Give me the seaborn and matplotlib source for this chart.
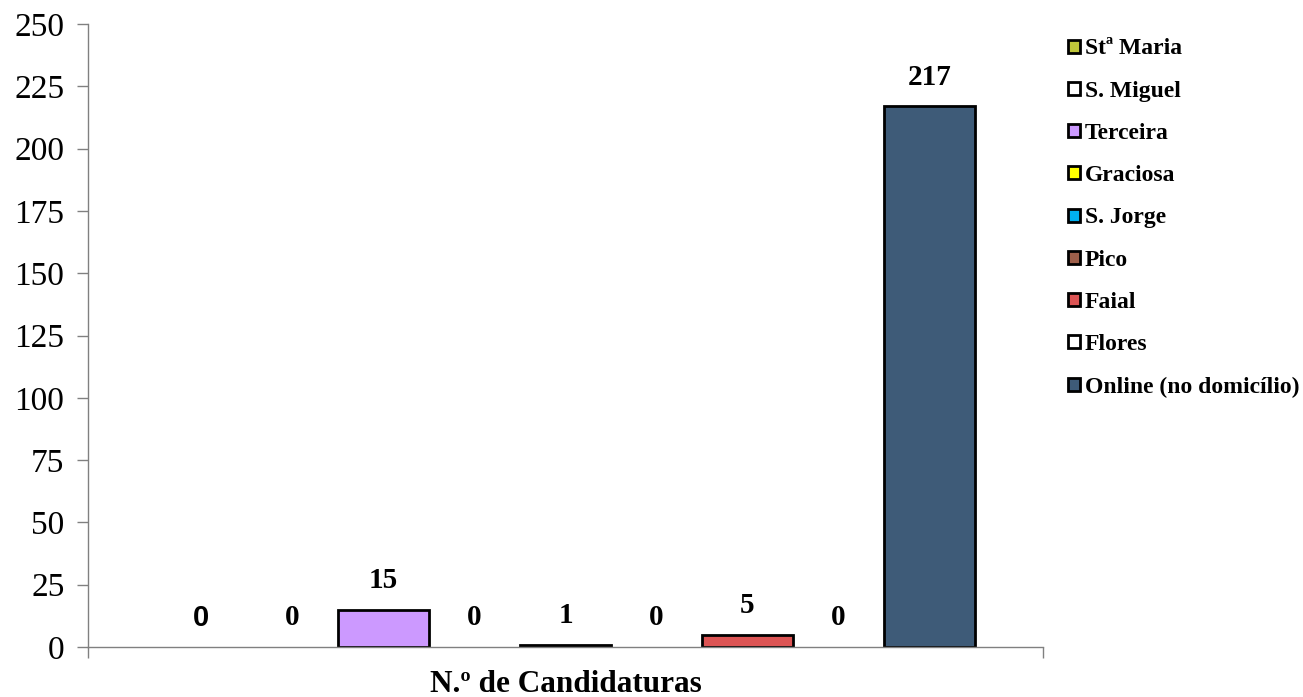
import matplotlib
matplotlib.use("Agg")
import matplotlib.pyplot as plt
import seaborn as sns
import pandas as pd

sns.set_theme(style="white")
plt.rcParams['font.family'] = ['Liberation Serif', 'DejaVu Serif']
plt.rcParams['text.color'] = 'black'
plt.rcParams['xtick.color'] = 'black'
plt.rcParams['ytick.color'] = 'black'
plt.rcParams['axes.labelcolor'] = 'black'

category = "N.º de Candidaturas"
islands = ["Stª Maria", "S. Miguel", "Terceira", "Graciosa", "S. Jorge",
           "Pico", "Faial", "Flores", "Online (no domicílio)"]
values = [0, 0, 15, 0, 1, 0, 5, 0, 217]
colors = ["#BFC63A", "#FFFFFF", "#CC99FF", "#FFFF00", "#00B0F0",
          "#9E5F4A", "#DC5454", "#FFFFFF", "#3E5B78"]
yticks = [0, 25, 50, 75, 100, 125, 150, 175, 200, 225, 250]

df = pd.DataFrame({"cat": [category] * len(islands), "island": islands, "value": values})

fig = plt.figure(figsize=(13.03, 6.97), dpi=100)
ax = fig.add_axes([88 / 1303, 50 / 697, (1043 - 88) / 1303, (647 - 24) / 697])

sns.barplot(data=df, x="cat", y="value", hue="island", hue_order=islands,
            palette=colors, width=0.8576, gap=0, dodge=True, ax=ax,
            edgecolor="black", linewidth=2, saturation=1, errorbar=None)

ax.set_xlim(-0.5, 0.5)
ax.set_ylim(0, 250)
ax.set_yticks(yticks)
ax.set_yticklabels([str(t) for t in yticks], fontsize=24, color="black")
ax.set_xticks([-0.5, 0.5])
ax.set_xticklabels(["", ""])
ax.tick_params(axis="both", direction="out", length=8, width=1, color="#808080",
               left=True, bottom=True, pad=9)
for s in ["top", "right"]:
    ax.spines[s].set_visible(False)
for s in ["left", "bottom"]:
    ax.spines[s].set_color("#808080")
    ax.spines[s].set_linewidth(1)
ax.set_ylabel("")
ax.set_xlabel("")
fig.text(565.5 / 1303, 1 - 685 / 697, category, ha="center", va="center",
         fontsize=22.5, fontweight="bold", color="black")

bars = [p for p in ax.patches if p.get_width() > 0][:len(islands)]
bars = sorted(bars, key=lambda p: p.get_x())
for i, (p, v) in enumerate(zip(bars, values)):
    if v == 0:
        p.set_linewidth(0)
    cx = p.get_x() + p.get_width() / 2
    fam = ['Liberation Sans'] if i == 0 else ['Liberation Serif']
    ax.annotate(str(v), (cx, v), xytext=(0, 21), textcoords="offset points",
                ha="center", va="center", fontsize=21, fontweight="bold",
                family=fam, color="black", annotation_clip=False)

handles, labels = ax.get_legend_handles_labels()
leg = ax.legend(handles, labels, loc="upper left", bbox_to_anchor=(1059 / 1303, 1 - 29 / 697),
                bbox_transform=fig.transFigure, frameon=False,
                prop={"family": "Liberation Serif", "weight": "bold", "size": 17},
                handlelength=0.47, handleheight=0.47, handletextpad=0.22,
                labelspacing=0.90, borderaxespad=0)
for h in leg.legend_handles:
    h.set_edgecolor("black")
    h.set_linewidth(2)

fig.savefig("out.png", dpi=100)
